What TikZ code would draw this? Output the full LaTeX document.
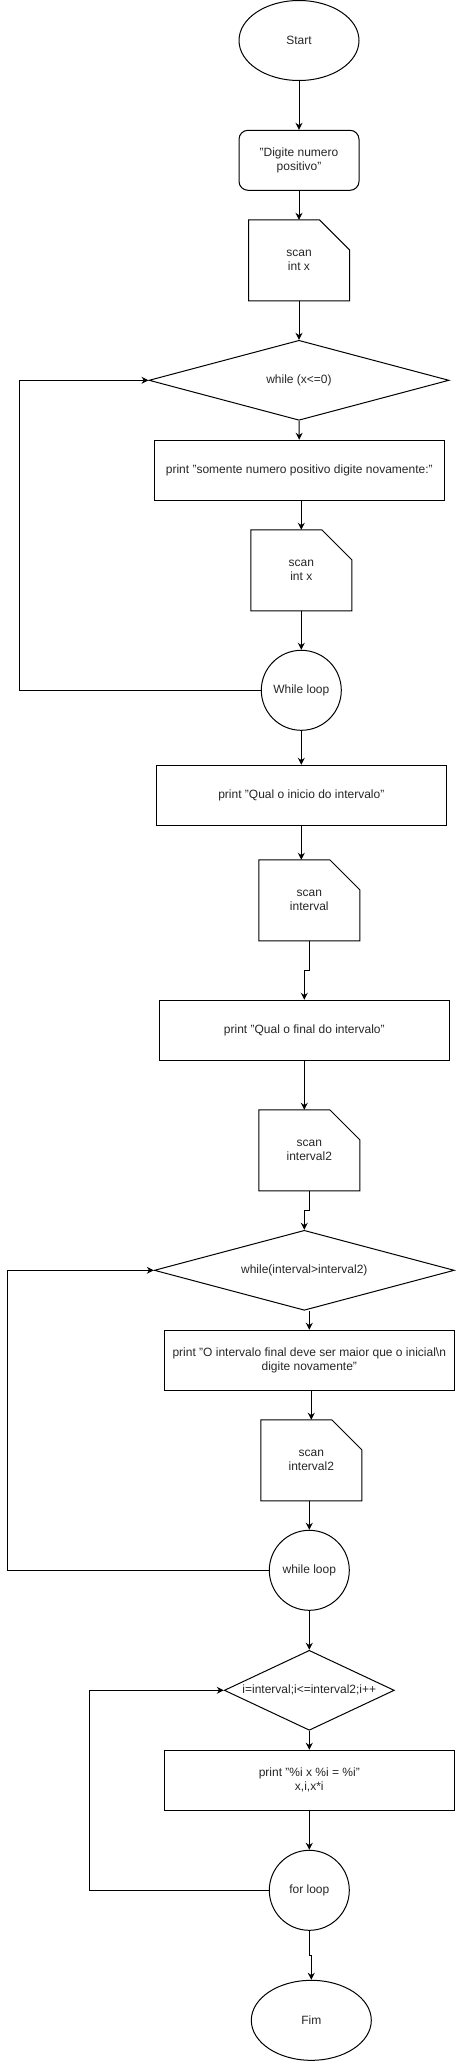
\documentclass[tikz,border=0pt]{standalone}
\usepackage{fontspec}
\setmainfont{Liberation Sans}
\usetikzlibrary{shapes.geometric,arrows.meta}
\begin{document}
\begin{tikzpicture}[x=1pt,y=-1pt,line width=1pt,
  every node/.style={font=\fontsize{12}{14}\selectfont,text=black!85,align=center},
  terminal/.style={ellipse,draw,minimum width=120pt,minimum height=80pt,inner sep=0pt},
  msgbox/.style={rectangle,draw,rounded corners=9pt,minimum width=120pt,minimum height=60pt},
  card/.style={rectangle,minimum width=100pt,minimum height=80pt},
  printbox/.style={rectangle,draw,minimum width=290pt,minimum height=60pt},
  test/.style={diamond,draw,inner sep=0pt,minimum height=80pt},
  loopnode/.style={circle,draw,minimum size=80pt,inner sep=0pt},
  flow/.style={-{Stealth[length=7pt,width=7pt]}}]
\useasboundingbox (0,0) rectangle (456,2061);
\node[terminal] (start) at (299,40.5) {Start};
\node[msgbox] (digite) at (299,160.3) {"Digite numero\\positivo"};
\node[card] (scan1) at (299,260.3) {scan\\int x};
\node[test,minimum width=300pt,aspect=3.75] (while1) at (299,380.3) {while (x<=0)};
\node[printbox] (print1) at (299.3,470.3) {print "somente numero positivo digite novamente:"};
\node[card] (scan2) at (301.3,570.3) {scan\\int x};
\node[loopnode] (loop1) at (301.3,690.3) {While loop};
\node[printbox] (print2) at (301.3,795.3) {print "Qual o inicio do intervalo"};
\node[card] (scan3) at (309.3,900.3) {scan\\interval};
\node[printbox] (print3) at (304.3,1030.3) {print "Qual o final do intervalo"};
\node[card] (scan4) at (309.3,1150.3) {scan\\interval2};
\node[test,minimum width=300pt,aspect=3.75] (while2) at (304.3,1270.3) {while(interval>interval2)};
\node[printbox] (print4) at (309.3,1360.3) {print "O intervalo final deve ser maior que o inicial\textbackslash n\\digite novamente"};
\node[card] (scan5) at (311.3,1460.3) {scan\\interval2};
\node[loopnode] (loop2) at (309.3,1570.3) {while loop};
\node[test,minimum width=170pt,aspect=2.125] (for) at (309.3,1690.3) {i=interval;i<=interval2;i++};
\node[printbox] (print5) at (309.3,1780.3) {print "\%i x \%i = \%i"\\x,i,x*i};
\node[loopnode] (loop3) at (309.3,1890.3) {for loop};
\node[terminal] (fim) at (311.3,2020.3) {Fim};
% folded corner cards
\foreach \c in {scan1,scan2,scan3,scan4,scan5}
  \draw (\c.south west) -- (\c.north west) -- ([xshift=-30pt]\c.north east)
    -- ([yshift=-30pt]\c.north east) -- (\c.south east) -- cycle;
% main flow
\draw[flow] (start) -- (digite);
\draw[flow] (digite) -- (scan1);
\draw[flow] (scan1) -- (while1);
\draw[flow] (while1) -- (print1);
\draw[flow] (print1.south -| scan2.north) -- (scan2.north);
\draw[flow] (scan2) -- (loop1);
\draw[flow] (loop1) -- (print2);
\draw[flow] (print2.south) -- (print2.south |- scan3.north);
\draw[flow] (scan3.south) -- ++(0,30) -| (print3.north);
\draw[flow] (print3.south) -- (print3.south |- scan4.north);
\draw[flow] (scan4.south) -- ++(0,20) -| (while2.north);
\draw[flow] (while2.south -| print4.north) -- (print4.north);
\draw[flow] (print4.south -| scan5.north) -- (scan5.north);
\draw[flow] (scan5.south -| loop2.north) -- (loop2.north);
\draw[flow] (loop2) -- (for);
\draw[flow] (for) -- (print5);
\draw[flow] (print5) -- (loop3);
\draw[flow] (loop3.south) -- ++(0,25) -| (fim.north);
% loops back
\coordinate (rail1) at (19.3,690.3);
\coordinate (rail2) at (7.3,1570.3);
\coordinate (rail3) at (89.3,1890.3);
\draw[flow] (loop1.west) -- (rail1) |- (while1.west);
\draw[flow] (loop2.west) -- (rail2) |- (while2.west);
\draw[flow] (loop3.west) -- (rail3) |- (for.west);
\end{tikzpicture}
\end{document}
